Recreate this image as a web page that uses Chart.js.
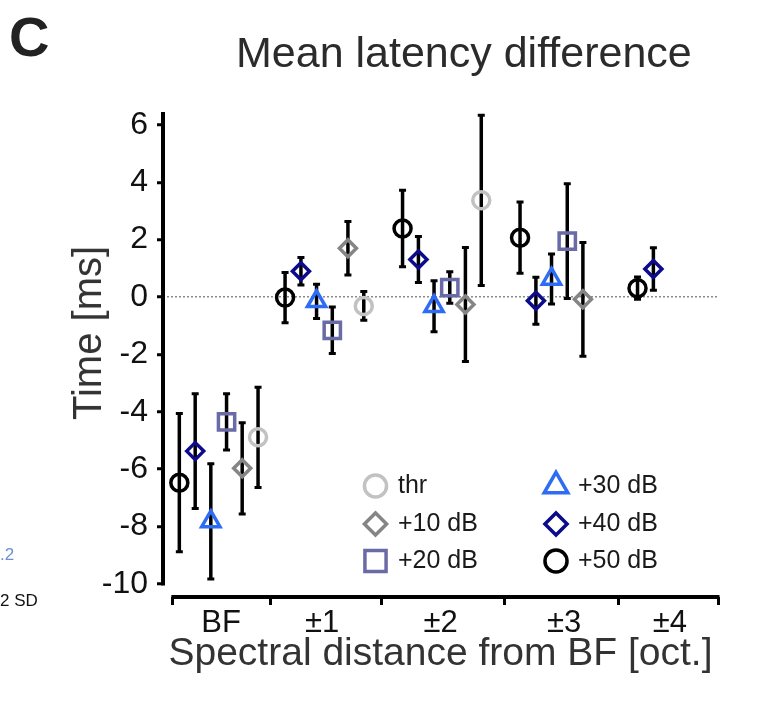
<!DOCTYPE html>
<html>
<head>
<meta charset="utf-8">
<script src="https://cdn.jsdelivr.net/npm/chart.js@4.4.1/dist/chart.umd.min.js"></script>
<style>
  html, body { margin: 0; padding: 0; background: #fff; }
  #wrap { position: relative; width: 765px; height: 708px; font-family: 'Liberation Sans', Arial, sans-serif; overflow: hidden; }
  #wrap canvas { position: absolute; left: 0; top: 0; }
  .txt { position: absolute; white-space: nowrap; line-height: 1; }
  #panel { left: 9px; top: 9px; font-size: 56px; font-weight: bold; color: #222; }
  #title { left: 236px; top: 31px; font-size: 43px; color: #2b2b2b; }
  #ytitle { left: 87px; top: 333px; font-size: 40px; color: #333; transform: translate(-50%, -50%) rotate(-90deg); }
  #cut1 { left: 0px; top: 546px; font-size: 17px; color: #6b8fd3; }
  #cut2 { left: 0px; top: 592px; font-size: 17px; color: #111; }
</style>
</head>
<body>
<div id="wrap">
  <canvas id="chart" width="765" height="708"></canvas>
  <div class="txt" id="panel">C</div>
  <div class="txt" id="title">Mean latency difference</div>
  <div class="txt" id="ytitle">Time [ms]</div>
  <div class="txt" id="cut1">.2</div>
  <div class="txt" id="cut2">2 SD</div>
</div>
<script>
// groups on the x axis (octaves from BF)
const groups = ['BF', '±1', '±2', '±3', '±4'];
const groupPos = [0.1, 1, 2, 3, 4];
const tickLabelPos = [0.12, 0.98, 1.99, 3.04, 3.94];
const groupEdges = [-0.29, 0.54, 1.49, 2.53, 3.5, 4.35];
const yTicks = [-10, -8, -6, -4, -2, 0, 2, 4, 6];

// series, left to right inside a group is +50 ... thr
const seriesNames = ['thr', '+10 dB', '+20 dB', '+30 dB', '+40 dB', '+50 dB'];
const seriesDodge = [0.335, 0.2, 0.067, -0.067, -0.2, -0.335];

// mean latency difference [ms] and error (SD) per group
const thrMean = [-4.89, -0.31, 3.37, null, null];
const thrSd = [1.75, 0.50, 2.97, null, null];
const db10Mean = [-5.97, 1.70, -0.26, -0.08, null];
const db10Sd = [1.59, 0.93, 1.99, 1.98, null];
const db20Mean = [-4.35, -1.16, 0.33, 1.95, null];
const db20Sd = [0.98, 0.81, 0.55, 2.00, null];
const db30Mean = [-7.82, -0.15, -0.32, 0.63, null];
const db30Sd = [2.01, 0.60, 0.89, 0.87, null];
const db40Mean = [-5.37, 0.90, 1.31, -0.13, 0.98];
const db40Sd = [2.00, 0.48, 0.80, 0.82, 0.74];
const db50Mean = [-6.47, -0.02, 2.39, 2.07, 0.31];
const db50Sd = [2.41, 0.88, 1.33, 1.24, 0.39];

const means = [thrMean, db10Mean, db20Mean, db30Mean, db40Mean, db50Mean];
const sds = [thrSd, db10Sd, db20Sd, db30Sd, db40Sd, db50Sd];

const seriesColors = ['#c2c2c2', '#858585', '#6a6aa6', '#2f6cf4', '#0b0b8c', '#000000'];
const seriesStyles = ['circle', 'rectRot', 'rect', 'triangle', 'rectRot', 'circle'];
const seriesRadius = [8.5, 8.5, 11.5, 10.5, 8.5, 8.5];

const FONT = "'Liberation Sans', Arial, sans-serif";
Chart.defaults.font.family = FONT;

const datasets = seriesNames.map((name, s) => ({
  label: name,
  data: groupPos.map((g, i) => ({ x: g + seriesDodge[s], y: means[s][i], sd: sds[s][i] })),
  pointStyle: seriesStyles[s],
  pointRadius: seriesRadius[s],
  pointBorderWidth: 3.5,
  borderColor: seriesColors[s],
  backgroundColor: 'rgba(0,0,0,0)',
  showLine: false,
}));

// axis lines, kept apart from each other like in the figure
const axisLines = {
  id: 'axisLines',
  beforeDatasetsDraw(chart) {
    const { ctx, chartArea, scales: { x, y } } = chart;
    ctx.save();
    ctx.strokeStyle = '#000';
    ctx.lineWidth = 4;
    ctx.beginPath();
    ctx.moveTo(chartArea.left, y.getPixelForValue(y.max));
    ctx.lineTo(chartArea.left, y.getPixelForValue(yTicks[0]) + 1.5);
    ctx.moveTo(x.getPixelForValue(groupEdges[0]) - 1.5, chartArea.bottom);
    ctx.lineTo(x.getPixelForValue(groupEdges[groupEdges.length - 1]) + 1.5, chartArea.bottom);
    ctx.stroke();
    ctx.restore();
  }
};

const errorBars = {
  id: 'errorBars',
  beforeDatasetsDraw(chart) {
    const { ctx, scales: { y } } = chart;
    ctx.save();
    ctx.strokeStyle = '#000';
    chart.data.datasets.forEach((ds, di) => {
      const meta = chart.getDatasetMeta(di);
      ds.data.forEach((d, i) => {
        if (d.y == null || d.sd == null) return;
        const px = meta.data[i].x;
        const top = y.getPixelForValue(d.y + d.sd);
        const bot = y.getPixelForValue(d.y - d.sd);
        ctx.lineWidth = 3.5;
        ctx.beginPath();
        ctx.moveTo(px, top);
        ctx.lineTo(px, bot);
        ctx.stroke();
        ctx.lineWidth = 3;
        ctx.beginPath();
        ctx.moveTo(px - 3.5, top); ctx.lineTo(px + 3.5, top);
        ctx.moveTo(px - 3.5, bot); ctx.lineTo(px + 3.5, bot);
        ctx.stroke();
      });
    });
    ctx.restore();
  }
};

// two-column legend in the lower right of the plot
const legendBox = {
  id: 'legendBox',
  afterDraw(chart) {
    const { ctx } = chart;
    const colMarkX = [375.5, 556];
    const colTextX = [398, 578];
    const rowY = [486, 524, 561];
    ctx.save();
    ctx.font = '25px ' + FONT;
    ctx.textBaseline = 'middle';
    ctx.textAlign = 'left';
    chart.data.datasets.forEach((ds, s) => {
      const col = Math.floor(s / 3), row = s % 3;
      ctx.strokeStyle = seriesColors[s];
      ctx.fillStyle = 'rgba(0,0,0,0)';
      ctx.lineWidth = 3.5;
      Chart.helpers.drawPoint(ctx, {
        pointStyle: seriesStyles[s], radius: seriesRadius[s] * 1.3, borderWidth: 3.5, rotation: 0
      }, colMarkX[col], rowY[row]);
      ctx.fillStyle = '#1a1a1a';
      ctx.fillText(ds.label, colTextX[col], rowY[row]);
    });
    ctx.restore();
  }
};

new Chart(document.getElementById('chart'), {
  type: 'scatter',
  data: { datasets },
  options: {
    responsive: false,
    animation: false,
    devicePixelRatio: 1,
    layout: { padding: { left: 0, right: 47, top: 112, bottom: 0 } },
    plugins: { legend: { display: false }, tooltip: { enabled: false } },
    scales: {
      x: {
        type: 'linear',
        min: -0.374,
        max: 4.35,
        afterBuildTicks: s => {
          s.ticks = [...groupEdges, ...tickLabelPos].sort((a, b) => a - b).map(v => ({ value: v }));
        },
        afterFit: s => { s.height = 111; },
        grid: {
          drawOnChartArea: false,
          drawTicks: true,
          tickLength: 8,
          tickWidth: 3,
          tickColor: c => (c.tick && groupEdges.includes(c.tick.value)) ? '#000' : 'rgba(0,0,0,0)',
        },
        border: { display: false },
        ticks: {
          autoSkip: false,
          maxRotation: 0,
          padding: 0,
          color: '#111',
          font: { size: 31 },
          callback: v => {
            const k = tickLabelPos.indexOf(v);
            return k >= 0 ? groups[k] : '';
          },
        },
        title: {
          display: true,
          text: 'Spectral distance from BF [oct.]',
          color: '#333',
          font: { size: 39 },
          padding: { top: 0, bottom: 30 },
        },
      },
      y: {
        min: -10.455,
        max: 6.45,
        afterBuildTicks: s => { s.ticks = yTicks.map(v => ({ value: v })); },
        afterFit: s => { s.width = 163; },
        grid: {
          color: c => (c.tick && c.tick.value === 0) ? '#8a8a8a' : 'rgba(0,0,0,0)',
          lineWidth: 1.5,
          drawTicks: true,
          tickLength: 6,
          tickWidth: 3,
          tickColor: '#000',
        },
        border: { display: false, dash: [2, 2] },
        ticks: { padding: 9, color: '#111', font: { size: 32 } },
      },
    },
  },
  plugins: [axisLines, errorBars, legendBox],
});
</script>
</body>
</html>
